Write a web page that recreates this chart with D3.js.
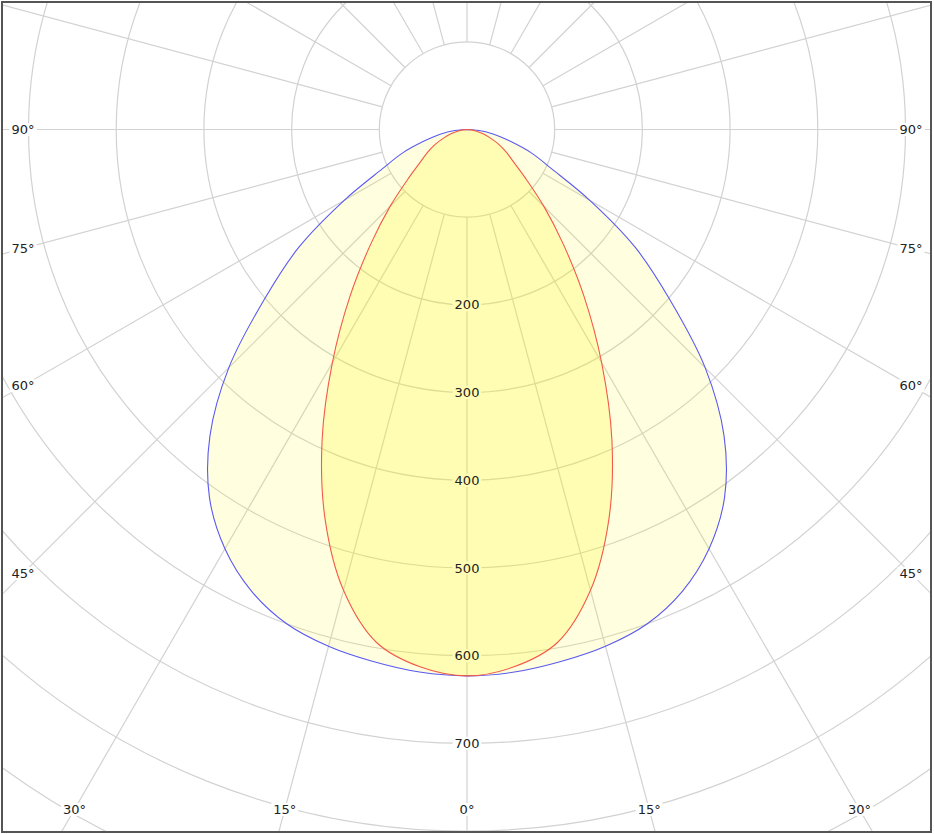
<!DOCTYPE html>
<html>
<head>
<meta charset="utf-8">
<script src="https://cdn.jsdelivr.net/npm/d3@7"></script>
<style>
  html, body { margin: 0; padding: 0; background: #fff; }
  svg { display: block; font-family: "DejaVu Sans", Verdana, sans-serif; }
</style>
</head>
<body>
<svg id="chart" width="934" height="834"></svg>
<script>
// ---- data ----
const gammaAngles = [0,5,10,15,20,25,30,35,40,45,50,55,60,65,70,75,80,85,90];
const planeC0  = [623,621,616,610,600,581,552,512,456,384,302,234,162,107,78,50,31,14,0];
const planeC90 = [623,615,594,544,473,391,307,233,171,124,88,65,52,40,28,19,11,5,0];
const ringValues = [100,200,300,400,500,600,700,800,900,1000,1100];
const ringLabels = [200,300,400,500,600,700];
const spokeAngles = d3.range(0, 360, 15);
const angleLabels = [0,15,30,45,60,75,90];

// ---- layout ----
const W = 934, H = 834;
const cx = 467, cy = 129.5;
const r = d3.scaleLinear().domain([0, 1000]).range([0, 877]);
const svg = d3.select("#chart");

svg.append("defs").append("clipPath").attr("id", "frame")
  .append("rect").attr("x", 3).attr("y", 3).attr("width", 927).attr("height", 828);

const g = svg.append("g").attr("clip-path", "url(#frame)");
const root = g.append("g").attr("transform", `translate(${cx},${cy})`);

const gridColor = "#d2d2d2";
// rings
root.selectAll("circle.ring").data(ringValues).join("circle")
  .attr("class", "ring").attr("r", d => r(d))
  .attr("fill", "none").attr("stroke", gridColor).attr("stroke-width", 1.2);
// spokes (outside the 100 ring)
const rad = a => a * Math.PI / 180;
root.selectAll("line.spoke").data(spokeAngles).join("line")
  .attr("class", "spoke")
  .attr("x1", d => r(100) * Math.sin(rad(d))).attr("y1", d => r(100) * Math.cos(rad(d)))
  .attr("x2", d => r(1200) * Math.sin(rad(d))).attr("y2", d => r(1200) * Math.cos(rad(d)))
  .attr("stroke", gridColor).attr("stroke-width", 1.2);

// label layers
const bgLayer = root.append("g");
const curveLayer = root.append("g");
const textLayer = root.append("g");

function addLabel(x, y, txt) {
  const t = textLayer.append("text")
    .attr("x", x).attr("y", y)
    .attr("text-anchor", "middle").attr("dominant-baseline", "central")
    .attr("font-size", 13).attr("fill", "#222").text(txt);
  const b = t.node().getBBox();
  bgLayer.append("rect")
    .attr("x", b.x - 2).attr("y", b.y + 1).attr("width", b.width + 4).attr("height", b.height - 2)
    .attr("fill", "#fff");
}

// ring value labels along 0°
ringLabels.forEach(v => addLabel(0, r(v), String(v)));

// angle labels at edges of an inset rectangle
const sideX = 444, bottomY = 680;
angleLabels.forEach(a => {
  [1, -1].forEach(sgn => {
    if (a === 0 && sgn === -1) return;
    const s = Math.sin(rad(a)), c = Math.cos(rad(a));
    let x, y;
    const ySide = c > 1e-9 ? sideX * c / s : 0;
    if (s > 1e-9 && ySide <= bottomY) { x = sgn * sideX; y = ySide; }
    else { y = bottomY; x = sgn * bottomY * s / c; }
    addLabel(x, y, a + "°");
  });
});

// ---- curves ----
function planePoints(vals) {
  const pts = [];
  for (let i = gammaAngles.length - 1; i >= 0; i--) pts.push([-gammaAngles[i], vals[i]]);
  for (let i = 1; i < gammaAngles.length; i++) pts.push([gammaAngles[i], vals[i]]);
  return pts;
}
const radial = d3.lineRadial()
  .angle(d => Math.PI - rad(d[0]))
  .radius(d => r(d[1]))
  .curve(d3.curveCatmullRom.alpha(0.5));

const c0Pts = planePoints(planeC0), c90Pts = planePoints(planeC90);
curveLayer.append("path").attr("d", radial(c0Pts) + "Z")
  .attr("fill", "#ffff10").attr("fill-opacity", 0.13).attr("stroke", "none");
curveLayer.append("path").attr("d", radial(c90Pts) + "Z")
  .attr("fill", "#fff200").attr("fill-opacity", 0.2).attr("stroke", "none");
curveLayer.append("path").attr("d", radial(c0Pts))
  .attr("fill", "none").attr("stroke", "#5a5af0").attr("stroke-width", 1.1);
curveLayer.append("path").attr("d", radial(c90Pts))
  .attr("fill", "none").attr("stroke", "#f25a4a").attr("stroke-width", 1.1);

// frame
svg.append("rect").attr("x", 2).attr("y", 2).attr("width", 929).attr("height", 830)
  .attr("fill", "none").attr("stroke", "#555").attr("stroke-width", 2);
</script>
</body>
</html>
